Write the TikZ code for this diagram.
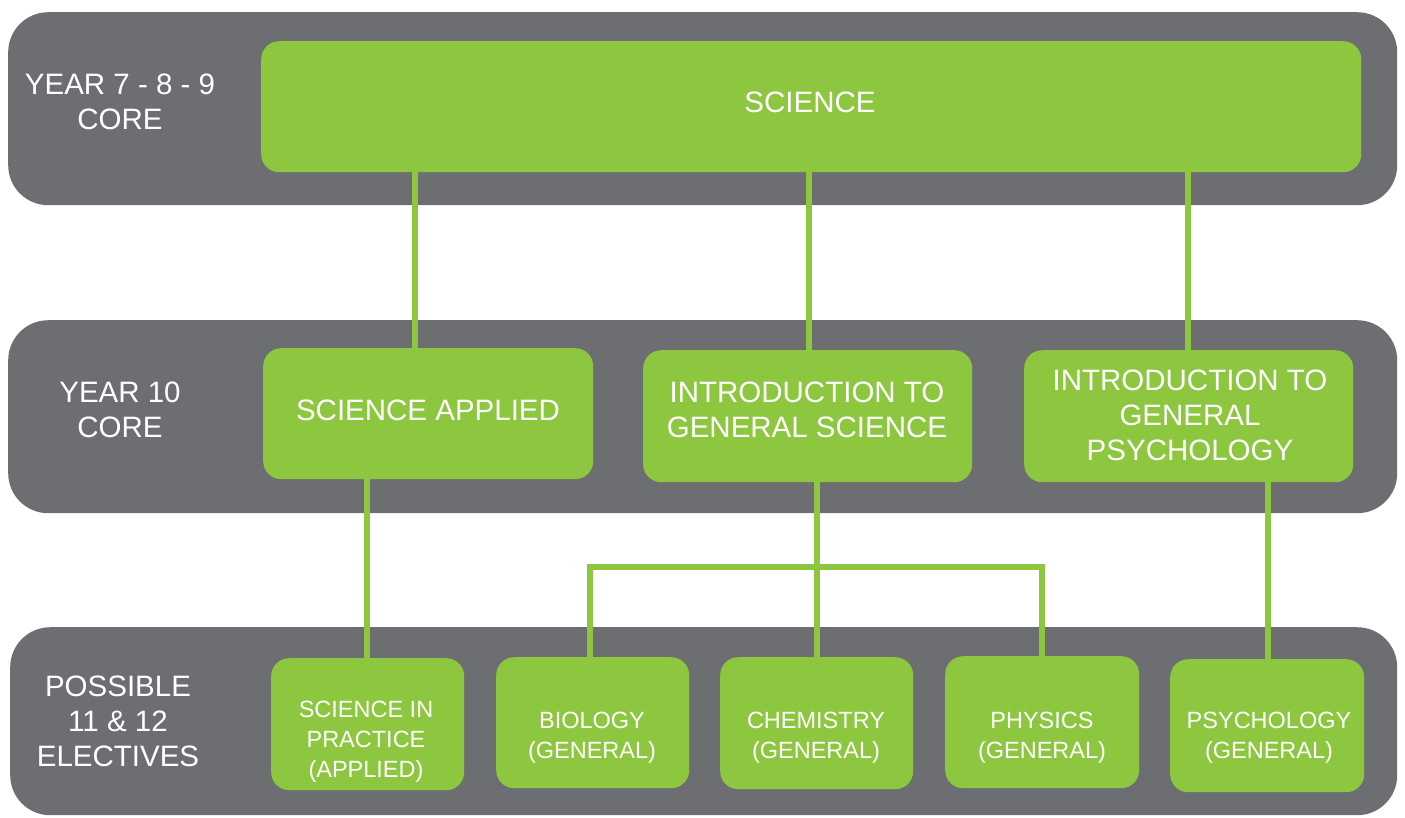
\documentclass[tikz,border=0pt]{standalone}
\usepackage{fontspec}
\setmainfont{Liberation Sans}
\pgfdeclarelayer{bands}
\pgfdeclarelayer{lines}
\pgfsetlayers{bands,lines,main}
\definecolor{bandgray}{HTML}{6D6E71}
\definecolor{leaf}{HTML}{8DC63F}
\begin{document}
\begin{tikzpicture}[x=1pt,y=-1pt,
  band/.style={fill=bandgray,rounded corners=40pt,inner sep=0pt,anchor=north west},
  gbox/.style={fill=leaf,rounded corners=18pt,inner sep=0pt,anchor=north west},
  txt/.style={text=white,align=center,inner sep=0pt},
  big/.style={font=\fontsize{29.5}{35}\selectfont},
  small/.style={font=\fontsize{23.5}{30}\selectfont},
  lab/.style={text=white,align=center,font=\fontsize{29.5}{35}\selectfont},
  conn/.style={draw=leaf,line width=6pt}]
\useasboundingbox (0,0) rectangle (1405,817);
% bands
\begin{pgfonlayer}{bands}
\node[band,minimum width=1389pt,minimum height=193pt] (b1) at (8,12) {};
\node[band,minimum width=1389pt,minimum height=193pt] (b2) at (8,320) {};
\node[band,minimum width=1387pt,minimum height=188pt] (b3) at (10,627) {};
\end{pgfonlayer}
% labels
\node[lab] (l1) at (120,102) {YEAR 7 - 8 - 9\\CORE};
\node[lab] (l2) at (120,410) {YEAR 10\\CORE};
\node[lab] (l3) at (118,721) {POSSIBLE\\11 \& 12\\ELECTIVES};
% boxes
\node[gbox,minimum width=1100pt,minimum height=131pt] (sci) at (261,41) {};
\node[gbox,minimum width=330pt,minimum height=131pt] (sa) at (263,348) {};
\node[gbox,minimum width=329pt,minimum height=132pt] (igs) at (643,350) {};
\node[gbox,minimum width=329pt,minimum height=132pt] (igp) at (1024,350) {};
\node[gbox,minimum width=193pt,minimum height=132pt] (sip) at (271,658) {};
\node[gbox,minimum width=193pt,minimum height=131pt] (bio) at (496,657) {};
\node[gbox,minimum width=193pt,minimum height=132pt] (chem) at (720,657) {};
\node[gbox,minimum width=194pt,minimum height=132pt] (phy) at (945,656) {};
\node[gbox,minimum width=194pt,minimum height=133pt] (psy) at (1170,659) {};
% box texts
\node[txt,big] (sci-t) at (810,102) {SCIENCE};
\node[txt,big] (sa-t) at (428,410) {SCIENCE APPLIED};
\node[txt,big] (igs-t) at (807,410) {INTRODUCTION TO\\GENERAL SCIENCE};
\node[txt,big] (igp-t) at (1190,415) {INTRODUCTION TO\\GENERAL\\PSYCHOLOGY};
\node[txt,small] (sip-t) at (366,742) {SCIENCE IN\\PRACTICE\\(APPLIED)};
\node[txt,small] (bio-t) at (592,738) {BIOLOGY\\(GENERAL)};
\node[txt,small] (chem-t) at (816,738) {CHEMISTRY\\(GENERAL)};
\node[txt,small] (phy-t) at (1042,738) {PHYSICS\\(GENERAL)};
\node[txt,small] (psy-t) at (1269,738) {PSYCHOLOGY\\(GENERAL)};
% connectors
\coordinate (jl) at (590,567);
\coordinate (jr) at (1042,567);
\begin{pgfonlayer}{lines}
\draw[conn] (415,0 |- sci.south) -- (415,0 |- sa.north);
\draw[conn] (809,0 |- sci.south) -- (809,0 |- igs.north);
\draw[conn] (1188,0 |- sci.south) -- (1188,0 |- igp.north);
\draw[conn] (367,0 |- sa.south) -- (367,0 |- sip.north);
\draw[conn] (817,0 |- igs.south) -- (817,0 |- chem.north);
\draw[conn] (jl |- bio.north) -- (jl) -- (jr) -- (jr |- phy.north);
\draw[conn] (1268,0 |- igp.south) -- (1268,0 |- psy.north);
\end{pgfonlayer}
\end{tikzpicture}
\end{document}
